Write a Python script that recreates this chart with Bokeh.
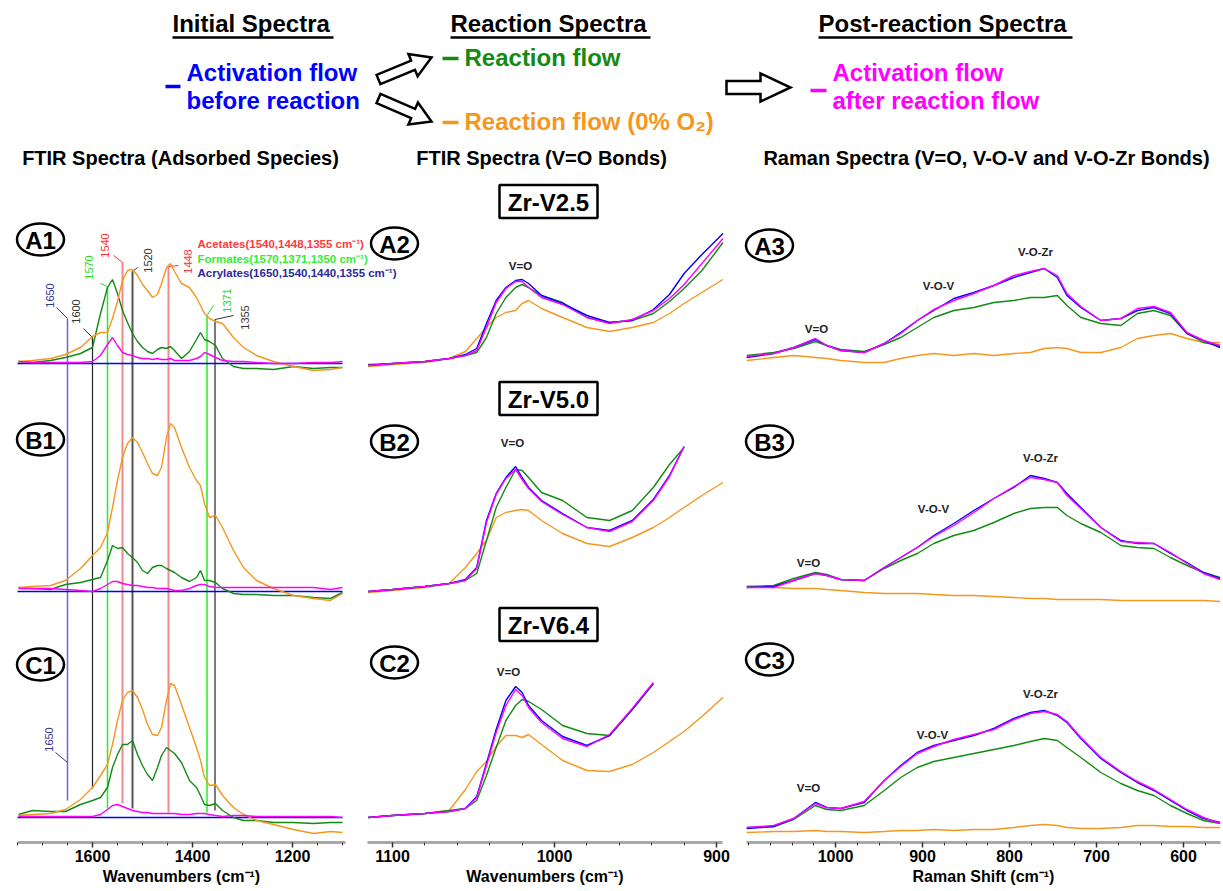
import math
from bokeh.plotting import figure
from bokeh.models import Range1d, FixedTicker
from bokeh.layouts import column, row
from bokeh.embed import file_html
from bokeh.resources import INLINE
from bokeh.core.properties import value

# ===================== DATA =====================
# ---- Column 1: FTIR spectra of adsorbed species, wavenumber (cm-1) ----
WN1 = [1748, 1720, 1684, 1654, 1624, 1600, 1584, 1570, 1560, 1550, 1540, 1530, 1520,
       1510, 1500, 1490, 1480, 1470, 1462, 1452, 1444, 1436, 1422, 1406, 1392, 1384,
       1376, 1366, 1354, 1340, 1318, 1298, 1272, 1238, 1198, 1158, 1124, 1100]
WN1_FLAT = [1750, 1100]

A1_BLUE = [0, 0]
A1_GREEN = [2, 1, 3, 6, 10, 16, 50, 76, 84, 70, 53, 41, 30, 22, 16, 12, 10, 14, 16, 15,
            17, 13, 5, 12, 24, 31, 24, 22, 18, 5, -3, -5, -5, -6, -3, -5, -4, -4]
A1_ORANGE = [2, 3, 5, 9, 16, 27, 31, 31, 45, 62, 83, 93, 94, 88, 79, 73, 66, 69, 80, 96,
             100, 92, 80, 76, 66, 58, 50, 45, 42, 40, 26, 16, 8, 2, -3, -7, -6, -4]
A1_MAGENTA = [2, 1, 1, 1, 1, 2, 8, 19, 26, 18, 11, 9, 8, 6, 5, 5, 4, 5, 4, 4,
              5, 3, 3, 3, 5, 7, 11, 9, 6, 3, 2, 2, 1, 0, 0, 1, 1, 2]

B1_BLUE = [0, 0]
B1_GREEN = [4, 3, 2, 7, 9, 12, 14, 31, 46, 43, 44, 38, 34, 29, 21, 18, 24, 26, 26, 23,
            21, 19, 14, 10, 14, 21, 11, 11, 9, 3, -2, -3, -3, -4, -4, -6, -7, -1]
B1_ORANGE = [4, 5, 6, 11, 23, 36, 44, 59, 84, 111, 134, 148, 154, 149, 139, 128, 118, 116,
             124, 154, 168, 164, 144, 124, 111, 106, 88, 74, 76, 64, 41, 24, 11, 3, -4, -7, -9, -2]
B1_MAGENTA = [3, 3, 3, 2, 1, 0, 3, 7, 10, 10, 8, 7, 6, 6, 5, 4, 4, 3, 3, 3,
              2, 1, 1, 3, 6, 7, 7, 5, 4, 4, 4, 4, 4, 4, 4, 4, 2, 4]

C1_BLUE = [0, 0]
C1_GREEN = [3, 7, 6, 6, 13, 17, 20, 30, 50, 63, 73, 73, 77, 63, 52, 43, 37, 50, 62, 70,
            67, 64, 55, 37, 30, 22, 13, 12, 14, 7, 0, -3, -3, -5, -5, -6, -5, -5]
C1_ORANGE = [2, 3, 4, 8, 18, 30, 42, 53, 73, 97, 117, 125, 127, 120, 108, 93, 83, 82, 90,
             117, 134, 132, 113, 90, 70, 57, 40, 32, 33, 22, 10, 3, -3, -7, -12, -16, -14, -15]
C1_MAGENTA = [1, 1, 1, 1, 1, 1, 3, 8, 12, 13, 11, 9, 7, 6, 5, 5, 4, 4, 4, 4,
              4, 4, 3, 3, 4, 4, 4, 3, 2, 1, 2, 2, 1, 1, 1, 1, 1, 0]

# ---- Column 2: FTIR spectra, V=O bonds ----
WN2 = [1115, 1100, 1080, 1065, 1055, 1048, 1042, 1036, 1030, 1024, 1020, 1016, 1008,
       995, 980, 966, 952, 939, 929, 920, 909, 896]

A2_BLUE = [1, 3, 5, 8, 12, 18, 43, 66, 79, 86, 87, 83, 71, 63, 51, 44, 46, 57, 72, 93, 112, 133]
A2_GREEN = [2, 3, 5, 8, 11, 14, 29, 53, 69, 79, 82, 79, 71, 64, 49, 44, 46, 53, 65, 78, 96, 124]
A2_ORANGE = [0, 2, 4, 8, 15, 28, 39, 49, 54, 56, 63, 66, 58, 49, 39, 35, 39, 44, 53, 63, 74, 87]
A2_MAGENTA = [1, 3, 5, 8, 11, 16, 39, 64, 78, 85, 85, 79, 69, 62, 49, 43, 47, 56, 68, 82, 103, 128]

B2_BLUE = [1, 3, 6, 9, 13, 25, 72, 99, 115, 126, 115, 105, 92, 79, 65, 62, 72, 93, 117, 146]
B2_GREEN = [1, 3, 6, 9, 12, 19, 52, 85, 105, 123, 122, 115, 100, 92, 75, 72, 82, 105, 128, 145]
B2_ORANGE = [0, 2, 5, 9, 25, 39, 52, 75, 80, 82, 83, 82, 72, 59, 49, 46, 55, 65, 75, 85, 97, 110]
B2_MAGENTA = [1, 3, 6, 9, 12, 24, 70, 98, 114, 123, 113, 104, 91, 78, 65, 61, 71, 92, 116, 146]

C2_BLUE = [0, 2, 4, 6, 9, 21, 54, 88, 117, 131, 125, 112, 97, 81, 72, 82, 108, 134]
C2_GREEN = [0, 2, 4, 7, 9, 17, 42, 70, 97, 112, 118, 116, 108, 92, 84, 82, 108, 134]
C2_ORANGE = [0, 2, 4, 7, 28, 46, 56, 71, 82, 82, 80, 83, 73, 57, 47, 46, 53, 65, 76, 86, 101, 120]
C2_MAGENTA = [0, 2, 4, 6, 9, 20, 52, 85, 112, 128, 122, 110, 95, 79, 71, 83, 109, 135]

# ---- Column 3: Raman spectra, Raman shift (cm-1) ----
WN3 = [1102, 1071, 1048, 1023, 1010, 994, 967, 944, 925, 906, 887, 864, 841, 818,
       795, 776, 760, 745, 734, 718, 695, 672, 653, 634, 615, 596, 577, 558]

A3_BLUE = [8, 12, 18, 26, 20, 15, 13, 22, 33, 45, 55, 67, 73, 80, 88, 93, 97, 88, 70, 58,
           45, 47, 55, 58, 52, 32, 25, 18]
A3_GREEN = [10, 13, 17, 24, 20, 16, 14, 21, 28, 38, 48, 55, 58, 63, 65, 68, 68, 70, 60, 48,
            42, 40, 52, 55, 50, 32, 23, 20]
A3_ORANGE = [5, 8, 10, 8, 7, 5, 3, 3, 7, 10, 12, 10, 12, 10, 12, 13, 17, 18, 17, 13,
             13, 18, 27, 30, 32, 27, 23, 23]
A3_MAGENTA = [9, 12, 18, 27, 20, 15, 13, 22, 32, 45, 56, 65, 72, 80, 90, 94, 97, 90, 72, 59,
              45, 47, 57, 59, 53, 33, 25, 20]

B3_BLUE = [14, 15, 21, 28, 26, 22, 21, 34, 44, 54, 66, 78, 91, 103, 114, 126, 123, 119, 108,
           94, 74, 61, 58, 58, 48, 39, 29, 23]
B3_GREEN = [15, 16, 23, 29, 27, 22, 21, 33, 41, 48, 58, 66, 71, 79, 88, 93, 94, 94, 86, 78,
            69, 56, 54, 53, 44, 36, 29, 24]
B3_ORANGE = [15, 14, 13, 13, 12, 11, 9, 8, 8, 8, 7, 6, 6, 5, 4, 3, 3, 2, 2, 2,
             2, 1, 1, 1, 1, 1, 1, 0]
B3_MAGENTA = [14, 14, 21, 28, 26, 22, 21, 34, 44, 54, 65, 76, 89, 103, 115, 124, 122, 119,
              106, 93, 74, 60, 59, 58, 49, 38, 28, 22]

C3_BLUE = [7, 9, 17, 33, 28, 27, 33, 55, 70, 83, 90, 95, 100, 107, 117, 123, 125, 120, 113,
           97, 77, 63, 53, 45, 35, 25, 17, 13]
C3_GREEN = [8, 9, 16, 30, 26, 25, 30, 45, 58, 68, 74, 78, 82, 86, 90, 94, 97, 95, 88, 78,
            63, 52, 45, 40, 30, 22, 15, 12]
C3_ORANGE = [3, 4, 4, 5, 4, 4, 3, 4, 5, 5, 6, 5, 6, 6, 8, 10, 11, 10, 8, 7,
             7, 8, 10, 10, 9, 9, 8, 8]
C3_MAGENTA = [8, 10, 17, 32, 28, 27, 34, 55, 69, 82, 89, 96, 101, 106, 116, 122, 124, 121,
              114, 98, 78, 64, 54, 46, 36, 26, 18, 12]

# ---- marker lines (adsorbed species) ----
MARKER_WN = [1650, 1600, 1570, 1540, 1520, 1448, 1371, 1355]
SPECIES = ["Acetates(1540,1448,1355 cm\u207b\u00b9)",
           "Formates(1570,1371,1350 cm\u207b\u00b9)",
           "Acrylates(1650,1540,1440,1355 cm\u207b\u00b9)"]

# ---- texts ----
STAGES = ["Initial Spectra", "Reaction Spectra", "Post-reaction Spectra"]
COL_TITLES = ["FTIR Spectra (Adsorbed Species)", "FTIR Spectra (V=O Bonds)",
              "Raman Spectra (V=O, V-O-V and V-O-Zr Bonds)"]
SAMPLES = ["Zr-V2.5", "Zr-V5.0", "Zr-V6.4"]
AXIS_TITLES = ["Wavenumbers (cm\u207b\u00b9)", "Wavenumbers (cm\u207b\u00b9)",
               "Raman Shift (cm\u207b\u00b9)"]
C1_MAJOR = [1600, 1400, 1200]
C1_MINOR = list(range(1100, 1751, 50))
C2_MAJOR = [1100, 1000, 900]
C2_MINOR = list(range(900, 1101, 20))
C3_MAJOR = [1000, 900, 800, 700, 600]
C3_MINOR = list(range(575, 1101, 25))

# ===================== STYLE / LAYOUT =====================
FONT = "Liberation Sans"
BLUE, GREEN, ORANGE, MAGENTA = "#0000ff", "#138a13", "#f5961e", "#ff00ff"
CX0, CX1 = 0, 1223           # canvas span in reference pixels
CY_BOT, CY_TOP = 838, 0
W, H = 1223, 838
AXIS_Y = 842                 # reference pixel row of the x axes
AXIS_BORDER = 48

COL_ANCHORS = {"c1": ((17, 1750), (345, 1094)),
               "c2": ((392, 1100), (716, 900)),
               "c3": ((835, 1000), (1183, 600))}
COL_FRAMES = {"c1": (17, 345), "c2": (367, 722), "c3": (746, 1220)}
COL_CELLS = {"c1": (0, 356), "c2": (356, 734), "c3": (734, 1223)}
PANEL_BASE = {"A1": 363, "B1": 591, "C1": 817,
              "A2": 366, "B2": 592, "C2": 817,
              "A3": 365, "B3": 601, "C3": 835}


def col_map(name, px):
    (p0, v0), (p1, v1) = COL_ANCHORS[name]
    return v0 + (px - p0) * (v1 - v0) / (p1 - p0)


def col_px(name, wn):
    (p0, v0), (p1, v1) = COL_ANCHORS[name]
    return p0 + (wn - v0) * (p1 - p0) / (v1 - v0)


p = figure(width=W, height=H, x_range=Range1d(CX0, CX1), y_range=Range1d(CY_BOT, CY_TOP),
           output_backend="svg", toolbar_location=None, x_axis_location=None,
           y_axis_location=None, min_border=0, min_border_left=0, min_border_right=0,
           min_border_top=0, min_border_bottom=0, outline_line_color=None)
p.grid.visible = False
p.extra_x_ranges = {n: Range1d(col_map(n, CX0), col_map(n, CX1)) for n in COL_ANCHORS}
p.extra_y_ranges = {n: Range1d(b - CY_BOT, b - CY_TOP) for n, b in PANEL_BASE.items()}


def label(x, y, s, size, color="black", style="bold", align="center", angle=0.0, xr="default"):
    p.text(x=[x], y=[y], text=[s], x_range_name=xr,
           text_font=value(FONT), text_font_size=f"{size}px", text_font_style=style,
           text_color=color, text_align=align, text_baseline="middle", angle=angle)


def arrow(x0, y0, x1, y1, w, hw, hl):
    dx, dy = x1 - x0, y1 - y0
    L = math.hypot(dx, dy)
    ux, uy = dx / L, dy / L
    nx, ny = -uy, ux
    bx, by = x1 - ux * hl, y1 - uy * hl
    pts = [(x0 + nx * w, y0 + ny * w), (bx + nx * w, by + ny * w), (bx + nx * hw, by + ny * hw),
           (x1, y1), (bx - nx * hw, by - ny * hw), (bx - nx * w, by - ny * w),
           (x0 - nx * w, y0 - ny * w)]
    p.patch([q[0] for q in pts], [q[1] for q in pts], fill_color="white",
            line_color="black", line_width=2.5, line_join="miter")


# ---------------- header ----------------
for s, x0, x1 in zip(STAGES, [172, 450, 818], [333, 650, 1072]):
    label(x0, 23, s, 24, align="left")
    p.segment(x0=[x0], y0=[37], x1=[x1], y1=[37], line_color="black", line_width=2.5)

p.segment(x0=[165], y0=[86], x1=[180], y1=[86], line_color=BLUE, line_width=3.5)
label(186, 72, "Activation flow", 24, BLUE, align="left")
label(186, 100, "before reaction", 24, BLUE, align="left")
arrow(378, 79, 431, 57, 5, 12, 20)
arrow(378, 98, 431, 121, 5, 12, 20)
p.segment(x0=[442], y0=[58], x1=[458], y1=[58], line_color=GREEN, line_width=3.5)
label(464, 57, "Reaction flow", 24, GREEN, align="left")
p.segment(x0=[442], y0=[122], x1=[458], y1=[122], line_color=ORANGE, line_width=3.5)
label(464, 121, "Reaction flow (0% O\u2082)", 24, ORANGE, align="left")
arrow(726, 87, 790, 87, 6.5, 14, 30)
p.segment(x0=[810], y0=[90], x1=[826], y1=[90], line_color=MAGENTA, line_width=3.5)
label(832, 72, "Activation flow", 24, MAGENTA, align="left")
label(832, 100, "after reaction flow", 24, MAGENTA, align="left")

for s, cx in zip(COL_TITLES, [180, 541, 986]):
    label(cx, 157, s, 20)

# sample boxes
p.rect(x=[548, 548, 548], y=[201, 398, 624], width=98, height=33, width_units="screen",
       height_units="screen", fill_color="white", line_color="black", line_width=2.5)
for s, cy in zip(SAMPLES, [201, 398, 624]):
    label(548, cy + 1, s, 24)

# panel circles
PANEL_POS = {"A1": (40, 239), "B1": (40, 439), "C1": (40, 664),
             "A2": (394, 243), "B2": (394, 441), "C2": (394, 662),
             "A3": (769, 245), "B3": (769, 441), "C3": (769, 659)}
p.ellipse(x=[v[0] for v in PANEL_POS.values()], y=[v[1] for v in PANEL_POS.values()],
          width=47, height=32, width_units="screen", height_units="screen",
          fill_color="white", line_color="black", line_width=2.5)
for k, (cx, cy) in PANEL_POS.items():
    label(cx, cy + 1, k, 24)

# ---------------- marker lines in column 1 ----------------
MARK_COLOR = ["#6a6ad0", "#222222", "#22ee22", "#f08a8a", "#555555", "#f08a8a", "#22ee22", "#222222"]
MARK_WIDTH = [1.5, 1.2, 1.5, 2.0, 2.0, 2.0, 1.5, 1.2]
MARK_TEXT = ["#333399", "#333333", "#22dd22", "#ff3030", "#333333", "#ff3030", "#22dd22", "#333333"]
MARK_TOP = [318, 337, 286, 262, 271, 266, 315, 319]
MARK_BOT = [800, 788, 808, 803, 808, 812, 812, 810]
MARK_LBL = [(49, 295), (75, 311), (88, 267), (104, 245), (147, 260), (187, 261), (226, 300), (244, 317)]
MARK_LEAD = [(56, 307), (83, 328), (100, 283), (113, 255), (137, 267), (178, 265), (213, 305), (233, 315)]

for i, wn in enumerate(MARKER_WN):
    p.segment(x0=[wn], y0=[MARK_TOP[i]], x1=[wn], y1=[MARK_BOT[i]], x_range_name="c1",
              line_color=MARK_COLOR[i], line_width=MARK_WIDTH[i])
    lx, ly = MARK_LEAD[i]
    p.segment(x0=[lx], y0=[ly], x1=[col_px("c1", wn)], y1=[MARK_TOP[i]],
              line_color=MARK_TEXT[i], line_width=1)
    label(MARK_LBL[i][0], MARK_LBL[i][1], str(wn), 11, MARK_TEXT[i], style="normal",
          angle=math.pi / 2)
# second 1650 label in panel C1
p.segment(x0=[55], y0=[752], x1=[col_px("c1", 1650)], y1=[762], line_color="#333399", line_width=1)
label(48, 739, str(MARKER_WN[0]), 11, "#333399", style="normal", angle=math.pi / 2)

for s, cy, c in zip(SPECIES, [243, 258, 272], ["#ff3b3b", "#33ee33", "#2b2b99"]):
    label(197, cy, s, 11.5, c, align="left")

# ---------------- spectra ----------------
PANELS = [
    ("c1", "A1", [(WN1_FLAT, A1_BLUE, BLUE), (WN1, A1_GREEN, GREEN), (WN1, A1_ORANGE, ORANGE), (WN1, A1_MAGENTA, MAGENTA)]),
    ("c1", "B1", [(WN1_FLAT, B1_BLUE, BLUE), (WN1, B1_GREEN, GREEN), (WN1, B1_ORANGE, ORANGE), (WN1, B1_MAGENTA, MAGENTA)]),
    ("c1", "C1", [(WN1_FLAT, C1_BLUE, BLUE), (WN1, C1_GREEN, GREEN), (WN1, C1_ORANGE, ORANGE), (WN1, C1_MAGENTA, MAGENTA)]),
    ("c2", "A2", [(WN2, A2_ORANGE, ORANGE), (WN2, A2_GREEN, GREEN), (WN2, A2_BLUE, BLUE), (WN2, A2_MAGENTA, MAGENTA)]),
    ("c2", "B2", [(WN2, B2_ORANGE, ORANGE), (WN2, B2_GREEN, GREEN), (WN2, B2_BLUE, BLUE), (WN2, B2_MAGENTA, MAGENTA)]),
    ("c2", "C2", [(WN2, C2_ORANGE, ORANGE), (WN2, C2_GREEN, GREEN), (WN2, C2_BLUE, BLUE), (WN2, C2_MAGENTA, MAGENTA)]),
    ("c3", "A3", [(WN3, A3_ORANGE, ORANGE), (WN3, A3_GREEN, GREEN), (WN3, A3_BLUE, BLUE), (WN3, A3_MAGENTA, MAGENTA)]),
    ("c3", "B3", [(WN3, B3_ORANGE, ORANGE), (WN3, B3_GREEN, GREEN), (WN3, B3_BLUE, BLUE), (WN3, B3_MAGENTA, MAGENTA)]),
    ("c3", "C3", [(WN3, C3_ORANGE, ORANGE), (WN3, C3_GREEN, GREEN), (WN3, C3_BLUE, BLUE), (WN3, C3_MAGENTA, MAGENTA)]),
]
for col, pan, series in PANELS:
    for xs, ys, c in series:
        p.line(x=xs[:len(ys)], y=ys, x_range_name=col, y_range_name=pan,
               line_color=c, line_width=1.4)

# band labels
VO_LABELS = [(520, 265, "V=O"), (512, 442, "V=O"), (508, 671, "V=O"),
             (816, 328, "V=O"), (938, 285, "V-O-V"), (1035, 251, "V-O-Zr"),
             (808, 562, "V=O"), (933, 508, "V-O-V"), (1040, 457, "V-O-Zr"),
             (808, 787, "V=O"), (932, 734, "V-O-V"), (1040, 693, "V-O-Zr")]
for x, y, s in VO_LABELS:
    label(x, y, s, 11.5, "#222222")


# ---------------- axes ----------------
def axis_fig(name, major, minor, title):
    f0, f1 = COL_FRAMES[name]
    c0, c1 = COL_CELLS[name]
    f = figure(width=c1 - c0, height=AXIS_Y - H + AXIS_BORDER,
               x_range=Range1d(col_map(name, f0), col_map(name, f1)),
               y_range=Range1d(0, 1), output_backend="svg", toolbar_location=None,
               y_axis_location=None, min_border_left=f0 - c0, min_border_right=c1 - f1,
               min_border_top=0, min_border_bottom=AXIS_BORDER, outline_line_color=None)
    f.grid.visible = False
    ax = f.xaxis[0]
    ax.ticker = FixedTicker(ticks=major, minor_ticks=minor)
    ax.axis_label = title
    ax.axis_line_color = "#a8a8a8"
    ax.axis_line_width = 3
    ax.major_tick_line_color = "#333333"
    ax.major_tick_line_width = 1.5
    ax.major_tick_in = 0
    ax.major_tick_out = 5
    ax.minor_tick_line_color = "#333333"
    ax.minor_tick_in = 0
    ax.minor_tick_out = 3
    ax.major_label_standoff = 2
    ax.major_label_text_font = FONT
    ax.major_label_text_font_size = "16px"
    ax.major_label_text_font_style = "bold"
    ax.major_label_text_color = "black"
    ax.axis_label_standoff = 3
    ax.axis_label_text_font = FONT
    ax.axis_label_text_font_size = "16px"
    ax.axis_label_text_font_style = "bold"
    ax.axis_label_text_color = "black"
    return f


ax1 = axis_fig("c1", C1_MAJOR, C1_MINOR, AXIS_TITLES[0])
ax2 = axis_fig("c2", C2_MAJOR, C2_MINOR, AXIS_TITLES[1])
ax3 = axis_fig("c3", C3_MAJOR, C3_MINOR, AXIS_TITLES[2])

layout = column(p, row(ax1, ax2, ax3))
open("out.html", "w").write(file_html(layout, INLINE))
